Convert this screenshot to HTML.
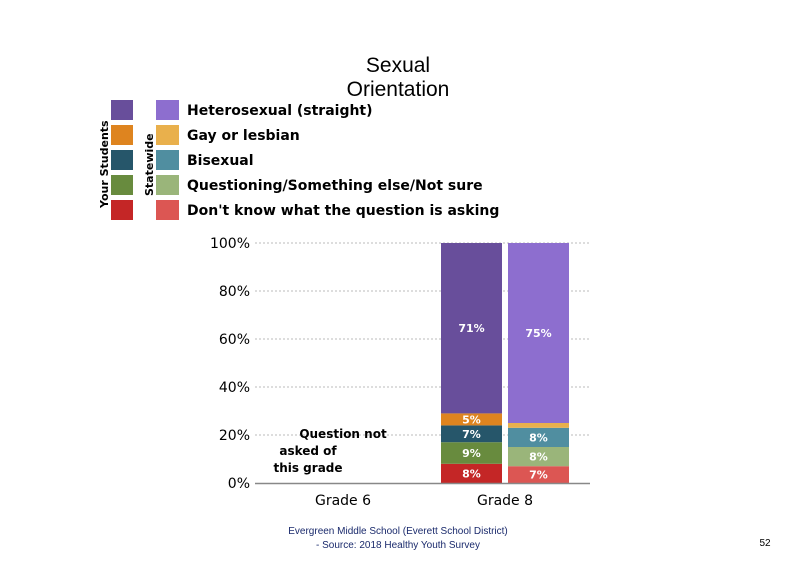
<!DOCTYPE html>
<html><head><meta charset="utf-8"><style>
body{margin:0;background:#fff;font-family:"Liberation Sans","DejaVu Sans",sans-serif}
#c{position:relative;width:800px;height:568px;overflow:hidden}
.t{position:absolute}
</style></head><body>
<div id="c">
<svg id="s" width="800" height="568" style="position:absolute;left:0;top:0">
<text x="398" y="72" text-anchor="middle" font-size="21" fill="#000">Sexual</text>
<text x="398" y="96" text-anchor="middle" font-size="21" fill="#000">Orientation</text>
<text transform="translate(108,208) rotate(-90)" font-size="11" font-weight="bold" font-family="DejaVu Sans">Your Students</text>
<text transform="translate(153,196) rotate(-90)" font-size="11" font-weight="bold" font-family="DejaVu Sans">Statewide</text>
<g id="legend"></g>
<g id="plot"></g>
<text x="343" y="438" text-anchor="middle" font-size="12" font-weight="bold" font-family="DejaVu Sans">Question not</text>
<text x="308" y="455" text-anchor="middle" font-size="12" font-weight="bold" font-family="DejaVu Sans">asked of</text>
<text x="308" y="472" text-anchor="middle" font-size="12" font-weight="bold" font-family="DejaVu Sans">this grade</text>
<text x="398" y="534" text-anchor="middle" font-size="10" fill="#1a2a6c">Evergreen Middle  School (Everett School District)</text>
<text x="398" y="548" text-anchor="middle" font-size="10" fill="#1a2a6c">- Source: 2018 Healthy  Youth Survey</text>
<text x="765" y="546" text-anchor="middle" font-size="10">52</text>
</svg>
</div>
<script>
const categories=["Grade 6","Grade 8"];
const seriesNames=["Heterosexual (straight)","Gay or lesbian","Bisexual","Questioning/Something else/Not sure","Don't know what the question is asking"];
const yourColors=["#684e9b","#de841f","#26566a","#688b3e","#c42626"];
const stateColors=["#8d6ecf","#e9b04c","#508ea0","#9ab57a","#dc5653"];
const yourGrade8=[71,5,7,9,8];
const stateGrade8=[75,2,8,8,7];
const yTicks=[0,20,40,60,80,100];
const NS="http://www.w3.org/2000/svg";
const y=v=>483-v*2.4;
const xCat=i=>[343,505][i];
function mk(tag,attrs,parent){const e=document.createElementNS(NS,tag);for(const k in attrs)e.setAttribute(k,attrs[k]);parent.appendChild(e);return e;}
const lg=document.getElementById('legend'),pl=document.getElementById('plot');
seriesNames.forEach((n,i)=>{
 const yy=100+i*25;
 const a=mk('rect',{x:111,y:yy,width:22,height:20,fill:yourColors[i]},lg);
 
 
 const b=mk('rect',{x:156,y:yy,width:23,height:20,fill:stateColors[i]},lg);
 
 
 const t=mk('text',{x:187,y:yy+15,'font-size':14,'font-weight':'bold','font-family':'DejaVu Sans'},lg);
 t.textContent=n;
 
 
});
yTicks.forEach(v=>{
 if(v>0){const l=mk('line',{x1:255,x2:590,y1:y(v),y2:y(v),stroke:'#bbb','stroke-dasharray':'2,2'},pl);
 
 }
 const t=mk('text',{x:250,y:y(v)+5,'text-anchor':'end','font-size':14,'font-family':'DejaVu Sans'},pl);
 t.textContent=v+'%';
 
 
});
function stack(vals,cols,x0,w,tag){
 let cum=0;
 for(let i=vals.length-1;i>=0;i--){
  const v=vals[i];
  const r=mk('rect',{x:x0,y:y(cum+v),width:w,height:v*2.4,fill:cols[i]},pl);
  
  
  if(v>=4){const t=mk('text',{x:x0+w/2,y:y(cum+v/2)+4,'text-anchor':'middle','font-size':11,'font-weight':'bold',fill:'#fff','font-family':'DejaVu Sans'},pl);
  t.textContent=v+'%';
  
  }
  cum+=v;
 }
}
stack(yourGrade8,yourColors,441,61,'your-grade8');
stack(stateGrade8,stateColors,508,61,'state-grade8');
const ax=mk('line',{x1:255,x2:590,y1:483.5,y2:483.5,stroke:'#888','stroke-width':1.5},pl);


categories.forEach((c,i)=>{
 const t=mk('text',{x:xCat(i),y:505,'text-anchor':'middle','font-size':14,'font-family':'DejaVu Sans'},pl);
 t.textContent=c;
 
 
});
</script>
</body></html>
